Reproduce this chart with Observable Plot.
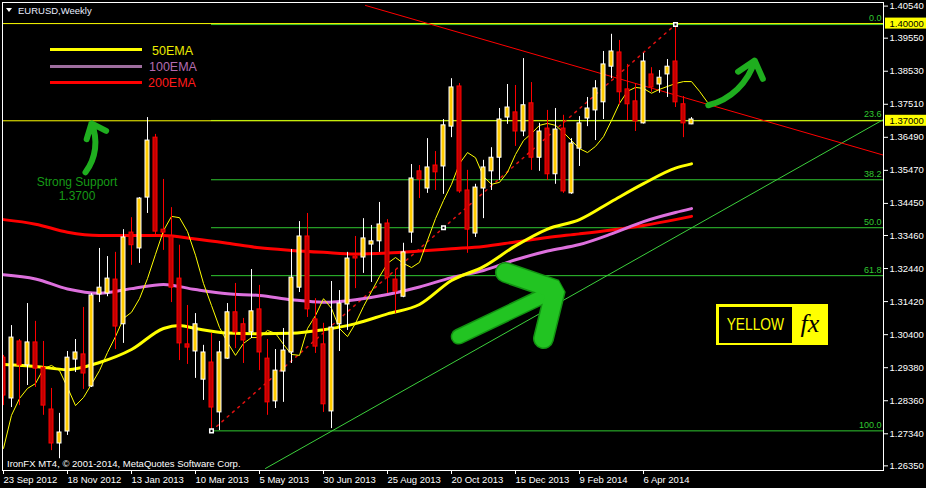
<!DOCTYPE html>
<html><head><meta charset="utf-8">
<script src="https://cdn.jsdelivr.net/npm/d3@7"></script>
<script src="https://cdn.jsdelivr.net/npm/@observablehq/plot@0.6"></script>
<style>
html,body{margin:0;padding:0;background:#000;overflow:hidden;}
#wrap{position:relative;width:926px;height:488px;background:#000;font-family:"Liberation Sans",Arial,sans-serif;}
#wrap > svg{position:absolute;left:0;top:0;}
.ov{position:absolute;white-space:nowrap;line-height:1;}
</style></head><body>
<div id="wrap"></div>
<script>
// ---- weekly candles EURUSD, first bar = week of 23 Sep 2012 ----
const START = Date.UTC(2012, 8, 23);
const wk = i => new Date(START + i * 7 * 864e5);

const opens = [1.2969,1.2843,1.3019,1.2945,1.3016,1.2938,1.2809,1.2704,1.2741,1.2963,
1.2979,1.2880,1.3164,1.3167,1.3210,1.3072,1.3355,1.3306,1.3463,1.3648,
1.3364,1.3343,1.3213,1.3010,1.2988,1.2901,1.2954,1.2800,1.2966,1.3109,
1.3072,1.3047,1.3118,1.2966,1.2834,1.2926,1.2985,1.3185,1.3343,1.3087,
1.3010,1.2803,1.3072,1.3133,1.3281,1.3278,1.3318,1.3328,1.3383,1.3210,
1.3157,1.3355,1.3544,1.3491,1.3562,1.3559,1.3682,1.3806,1.3485,1.3352,
1.3491,1.3544,1.3586,1.3710,1.3726,1.3667,1.3754,1.3586,1.3676,1.3535,
1.3676,1.3476,1.3614,1.3707,1.3732,1.3757,1.3867,1.3911,1.3797,1.3760,
1.3692,1.3843,1.3812,1.3843,1.3883,1.3751,1.3689];
const highs = [1.2976,1.3068,1.3025,1.3136,1.3081,1.3019,1.2874,1.2797,1.2988,1.3025,
1.3124,1.3167,1.3306,1.3281,1.3294,1.3364,1.3401,1.3463,1.3710,1.3658,
1.3519,1.3432,1.3316,1.3130,1.3105,1.3007,1.3044,1.3019,1.3136,1.3198,
1.3090,1.3241,1.3192,1.3025,1.2994,1.3059,1.3303,1.3389,1.3414,1.3151,
1.3075,1.3204,1.3176,1.3294,1.3343,1.3398,1.3377,1.3448,1.3395,1.3241,
1.3322,1.3565,1.3562,1.3645,1.3605,1.3704,1.3830,1.3815,1.3547,1.3504,
1.3578,1.3617,1.3738,1.3812,1.3809,1.3892,1.3818,1.3692,1.3732,1.3738,
1.3717,1.3645,1.3713,1.3772,1.3824,1.3914,1.3967,1.3948,1.3874,1.3815,
1.3908,1.3864,1.3855,1.3889,1.3997,1.3775,1.3710];
const lows = [1.2821,1.2815,1.2821,1.2883,1.2877,1.2791,1.2682,1.2657,1.2729,1.2923,
1.2871,1.2877,1.3139,1.3157,1.2994,1.3013,1.3254,1.3260,1.3414,1.3349,
1.3300,1.3139,1.2960,1.2948,1.2905,1.2837,1.2743,1.2744,1.2964,1.2997,
1.2951,1.3028,1.2929,1.2791,1.2812,1.2831,1.2951,1.3170,1.3093,1.2982,
1.2800,1.2750,1.2988,1.3053,1.3182,1.3229,1.3201,1.3294,1.3167,1.3105,
1.3154,1.3322,1.3460,1.3476,1.3485,1.3473,1.3648,1.3476,1.3291,1.3340,
1.3398,1.3485,1.3516,1.3689,1.3621,1.3651,1.3547,1.3544,1.3516,1.3504,
1.3476,1.3473,1.3559,1.3682,1.3639,1.3704,1.3830,1.3748,1.3701,1.3667,
1.3690,1.3788,1.3785,1.3772,1.3741,1.3648,1.3688];
const closes = [1.2852,1.3031,1.2945,1.3016,1.2935,1.2821,1.2704,1.2738,1.2969,1.2985,
1.2920,1.3161,1.3185,1.3213,1.3065,1.3340,1.3316,1.3460,1.3639,1.3358,
1.3355,1.3185,1.3013,1.3000,1.3072,1.2985,1.2815,1.2985,1.3109,1.3047,
1.3022,1.3112,1.2985,1.2831,1.2929,1.2991,1.3216,1.3343,1.3118,1.3003,
1.2825,1.3062,1.3136,1.3275,1.3275,1.3337,1.3328,1.3380,1.3216,1.3173,
1.3294,1.3522,1.3519,1.3556,1.3541,1.3686,1.3803,1.3482,1.3364,1.3494,
1.3556,1.3586,1.3704,1.3741,1.3667,1.3748,1.3586,1.3667,1.3535,1.3673,
1.3482,1.3630,1.3692,1.3738,1.3800,1.3874,1.3914,1.3788,1.3751,1.3698,
1.3883,1.3803,1.3833,1.3867,1.3757,1.3692,1.3704];

// moving averages: [week index, price]
const ema50 = [[0,1.2948],[4,1.2942],[8,1.2932],[12,1.2954],[16,1.2994],[20,1.3059],[22,1.3068],[24,1.3059],[28,1.3045],[32,1.3043],[36,1.3044],[40,1.3055],[44,1.3074],[48,1.3104],[52,1.3133],[56,1.3207],[60,1.3250],[64,1.3314],[68,1.3366],[72,1.3395],[76,1.3451],[80,1.3506],[84,1.3554],[86,1.3567]];
const ema100 = [[0,1.3225],[4,1.3212],[8,1.3181],[12,1.3168],[16,1.3182],[20,1.3195],[24,1.3179],[28,1.3166],[32,1.3161],[36,1.3148],[40,1.3140],[44,1.3148],[48,1.3164],[52,1.3187],[56,1.3216],[60,1.3238],[64,1.3271],[68,1.3298],[72,1.3318],[76,1.3351],[80,1.3389],[84,1.3417],[86,1.3429]];
const ema200 = [[0,1.3395],[4,1.3381],[8,1.3356],[12,1.3346],[16,1.3346],[20,1.3346],[24,1.3335],[28,1.3322],[32,1.3308],[36,1.3300],[40,1.3294],[44,1.3289],[48,1.3292],[52,1.3298],[56,1.3305],[60,1.3312],[64,1.3326],[68,1.3340],[72,1.3351],[76,1.3363],[80,1.3377],[84,1.3395],[86,1.3405]];
// thin shifted MA, one value per week index 0..88
const maThin = [1.2689,1.2791,1.2843,1.2874,1.2889,1.2935,1.2945,1.2929,1.2877,1.2821,
1.2846,1.2887,1.2929,1.2985,1.3034,1.3090,1.3109,1.3151,1.3213,1.3288,
1.3361,1.3405,1.3401,1.3358,1.3285,1.3198,1.3130,1.3062,1.3016,1.2976,
1.3013,1.3031,1.3031,1.3053,1.3044,1.3010,1.2979,1.2976,1.3059,1.3099,
1.3151,1.3121,1.3059,1.3034,1.3075,1.3127,1.3173,1.3219,1.3260,1.3278,
1.3260,1.3247,1.3263,1.3331,1.3398,1.3454,1.3504,1.3568,1.3602,1.3586,
1.3528,1.3504,1.3510,1.3541,1.3596,1.3639,1.3661,1.3686,1.3692,1.3686,
1.3664,1.3639,1.3614,1.3602,1.3621,1.3651,1.3701,1.3754,1.3791,1.3803,
1.3800,1.3785,1.3797,1.3806,1.3815,1.3821,1.3821,1.3791,1.3757];

const yTicks = [1.40540,1.39550,1.38530,1.37510,1.36490,1.35470,1.34450,1.33460,1.32440,1.31420,1.30400,1.29380,1.28360,1.27340,1.26350];
const xTickWeeks = [0,8,16,24,32,40,48,56,64,72,80];
const levels = [1.40, 1.37];
const fibRatios = [0, 23.6, 38.2, 50, 61.8, 100];
const fibLow = [26, 1.2743];
const fibHigh = [84, 1.3997];
const fibMid = [55, 1.3370];
const redTrend = [[45.25, 1.4056], [110, 1.3594]];
const greenTrend = [[32.75, 1.2627], [110, 1.3704]];
const curvedArrows = [[10.25, 1.3541, 11.0, 1.3692], [88.1, 1.3748, 93.9, 1.3886]];
const bigShaft = [[56.9, 1.3034], [68.4, 1.3170]];
const bigHead = [[62.75, 1.3232], [69.0, 1.3179], [67.5, 1.3028]];

// ---- build ----
const candles = opens.map((o, i) => ({i, date: wk(i), open: o, high: highs[i], low: lows[i], close: closes[i], up: closes[i] >= o}));
const pts = arr => arr.map(([i, p]) => ({date: wk(i), price: p}));
const GREEN = "#30c830";
const fibs = fibRatios.map(r => ({label: d3.format(".1f")(r), price: fibHigh[1] - r / 100 * (fibHigh[1] - fibLow[1])}));
const XY = {x: "date", y: "price"};

const chart = Plot.plot({
  width: 926, height: 488,
  marginLeft: 2, marginRight: 43, marginTop: 2, marginBottom: 18,
  style: {background: "#000", color: "#fff", fontFamily: "'Liberation Sans', Arial, sans-serif", fontSize: "9.5px"},
  x: {type: "utc", domain: [wk(-0.125), wk(110)]},
  y: {type: "linear", domain: [1.26207, 1.40651]},
  color: {type: "identity"},
  marks: [
    Plot.ruleY(fibs, {y: "price", x1: () => wk(fibLow[0]), x2: () => wk(110), stroke: GREEN}),
    Plot.text(fibs, {y: "price", text: "label", frameAnchor: "right", textAnchor: "end", dx: -2, dy: -6, fill: GREEN, fontSize: 9}),
    Plot.ruleY(levels, {stroke: "#ffff00"}),
    Plot.line(pts(greenTrend), {...XY, stroke: "#3cd03c", strokeWidth: 1, clip: true}),
    Plot.line(pts(redTrend), {...XY, stroke: "#ff0000", strokeWidth: 1, clip: true}),
    Plot.line(pts([fibLow, fibHigh]), {...XY, stroke: "#e01010", strokeDasharray: "2,5"}),
    Plot.line(pts(ema200), {...XY, stroke: "#ff0000", strokeWidth: 3, curve: "monotone-x"}),
    Plot.line(pts(ema100), {...XY, stroke: "#dd70dd", strokeWidth: 3, curve: "monotone-x"}),
    Plot.line(pts(ema50), {...XY, stroke: "#ffff00", strokeWidth: 3, curve: "monotone-x"}),
    Plot.line(maThin.map((p, i) => ({date: wk(i), price: p})), {...XY, stroke: "#ffff00", strokeWidth: 1}),
    // big green arrow
    Plot.line(pts(bigShaft), {...XY, stroke: "#129212", strokeWidth: 16, strokeLinecap: "round"}),
    Plot.line(pts(bigHead), {...XY, stroke: "#129212", strokeWidth: 21, strokeLinecap: "round", strokeLinejoin: "miter"}),
    Plot.line(pts(bigShaft), {...XY, stroke: "#22c422", strokeWidth: 13, strokeLinecap: "round"}),
    Plot.line(pts(bigHead), {...XY, stroke: "#22c422", strokeWidth: 18, strokeLinecap: "round", strokeLinejoin: "miter"}),
    // curved arrows
    Plot.arrow(curvedArrows, {x1: d => wk(d[0]), y1: d => d[1], x2: d => wk(d[2]), y2: d => d[3], bend: -30, stroke: "#1fae1f", strokeWidth: 6, headLength: 5, headAngle: 80}),
    // candles
    Plot.ruleX(candles, {x: "date", y1: "low", y2: "high", stroke: d => d.up ? "#ffffff" : "#ff0000", clip: true}),
    Plot.rect(candles, {x1: d => wk(d.i - 0.25), x2: d => wk(d.i + 0.25), y1: "open", y2: "close",
      fill: d => d.up ? "#ffcc00" : "#c00000", stroke: d => d.up ? "#ffffff" : "#ff0000", clip: true}),
    Plot.dot(pts([fibLow, fibMid, fibHigh]), {...XY, symbol: "square", r: 2, stroke: "#ffffff", fill: "#000000"}),
    // axes
    Plot.axisY({anchor: "right", ticks: yTicks, tickFormat: d3.format(".5f"), tickSize: 4, tickPadding: 2, label: null}),
    Plot.axisX({anchor: "bottom", ticks: xTickWeeks.map(wk), tickFormat: d3.utcFormat("%-d %b %Y"), tickSize: 4, tickPadding: 2, textAnchor: "start", label: null}),
    Plot.rect(levels, {x1: () => wk(110.25), x2: () => wk(115.5), y1: d => d - 0.0017, y2: d => d + 0.0017, fill: "#ffff00"}),
    Plot.text(levels, {x: () => wk(110.75), y: d => d, text: d => d3.format(".5f")(d), textAnchor: "start", fill: "#000000"}),
    Plot.frame({stroke: "#ffffff"})
  ]
});

const wrap = document.getElementById("wrap");
wrap.appendChild(chart);
const ov = document.createElement("div");
ov.innerHTML = `
<div class="ov" style="left:6px;top:8px;width:0;height:0;border-left:3.5px solid transparent;border-right:3.5px solid transparent;border-top:4px solid #fff;"></div>
<div class="ov" style="left:18px;top:5.5px;font-size:9.5px;color:#e8eeff;">EURUSD,Weekly</div>
<div class="ov" style="left:50px;top:48px;width:92px;height:3px;background:#ffff00;"></div>
<div class="ov" style="left:50px;top:65px;width:92px;height:3px;background:#9e6e9e;"></div>
<div class="ov" style="left:50px;top:81px;width:92px;height:3px;background:#ff0000;"></div>
<div class="ov" style="left:152px;top:44.7px;font-size:12.5px;color:#ecec00;">50EMA</div>
<div class="ov" style="left:149px;top:60.7px;font-size:12.5px;color:#b46cb0;">100EMA</div>
<div class="ov" style="left:148px;top:76.7px;font-size:12.5px;color:#ff1a1a;">200EMA</div>
<div class="ov" style="left:27px;top:175.8px;width:100px;text-align:center;font-size:12px;color:#169a16;">Strong Support</div>
<div class="ov" style="left:27px;top:189.8px;width:100px;text-align:center;font-size:12px;color:#169a16;">1.3700</div>
<div class="ov" style="left:7px;top:458.5px;font-size:9.5px;color:#ffffff;">IronFX MT4, © 2001-2014, MetaQuotes Software Corp.</div>
<div class="ov" style="left:716px;top:304px;width:112px;height:41px;background:#ffff00;"></div>
<div class="ov" style="left:719px;top:307px;width:73px;height:36px;background:#000;"></div>
<div class="ov" style="left:719px;top:307px;width:73px;height:36px;color:#ffff00;font-size:16px;line-height:36px;text-align:center;"><span style="display:inline-block;transform:scaleX(0.86);">YELLOW</span></div>
<div class="ov" style="left:794px;top:305px;width:32px;height:38px;color:#000;font-family:'Liberation Serif',serif;font-style:italic;font-size:26px;line-height:38px;text-align:center;">fx</div>
`;
while (ov.firstElementChild) wrap.appendChild(ov.firstElementChild);
</script></body></html>
